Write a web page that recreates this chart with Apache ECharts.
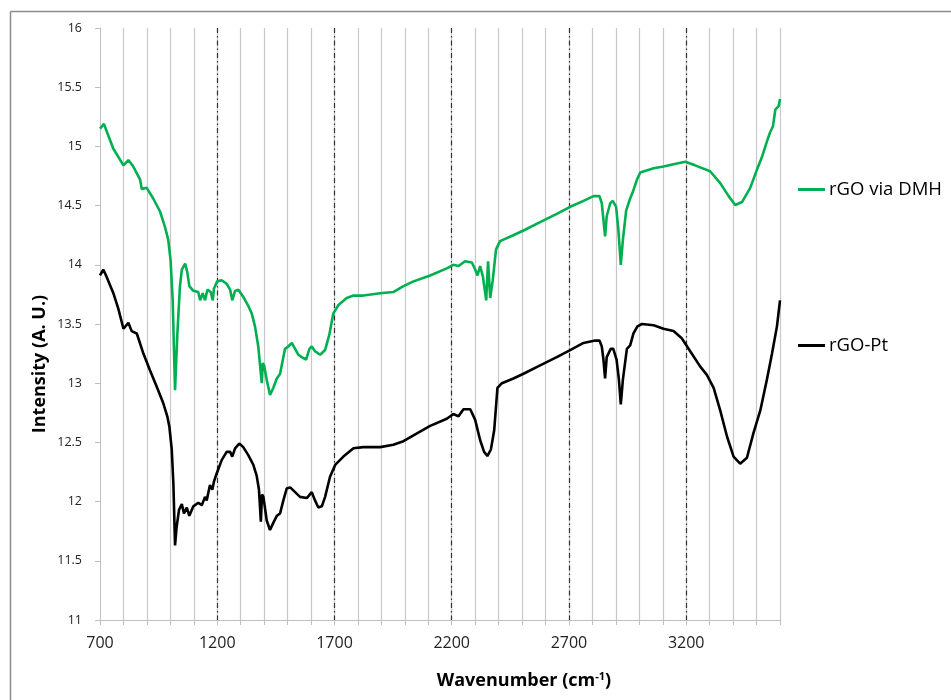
<!DOCTYPE html>
<html>
<head>
<meta charset="utf-8">
<script src="https://cdn.jsdelivr.net/npm/echarts@6/dist/echarts.min.js"></script>
<style>
html,body{margin:0;padding:0;background:#fff;}
#chart{width:951px;height:700px;}
</style>
</head>
<body>
<div id="chart"></div>
<script>
// Wavenumber (cm-1) and intensity values
const dmhX = [700,717,726,757,800,821,842,871,878,899,927,956,977,991,1001,1010,1020,1030,1041,1049,1063,1072,1081,1098,1119,1127,1138,1148,1158,1172,1181,1186,1200,1219,1240,1255,1264,1276,1290,1311,1333,1347,1361,1375,1386,1390,1394,1400,1411,1425,1439,1454,1468,1489,1503,1518,1532,1546,1560,1579,1593,1603,1617,1639,1660,1678,1695,1717,1752,1781,1823,1895,1951,1994,2037,2108,2179,2207,2229,2257,2286,2300,2310,2321,2333,2347,2355,2364,2375,2389,2406,2463,2506,2577,2648,2705,2762,2805,2830,2840,2847,2854,2861,2876,2887,2901,2911,2921,2930,2944,2961,2975,2990,3004,3061,3103,3146,3196,3238,3302,3345,3381,3409,3438,3473,3501,3523,3544,3558,3570,3580,3594,3600];
const dmhY = [15.15,15.19,15.14,14.98,14.84,14.885,14.83,14.72,14.64,14.65,14.56,14.45,14.32,14.21,14.04,13.70,12.94,13.42,13.82,13.96,14.01,13.94,13.82,13.78,13.77,13.70,13.76,13.70,13.79,13.77,13.70,13.80,13.86,13.87,13.84,13.79,13.70,13.78,13.79,13.73,13.65,13.59,13.48,13.31,13.08,13.00,13.17,13.15,13.03,12.90,12.96,13.04,13.08,13.29,13.31,13.34,13.29,13.24,13.22,13.20,13.29,13.31,13.27,13.24,13.28,13.41,13.59,13.66,13.72,13.74,13.74,13.76,13.77,13.82,13.86,13.91,13.97,14.00,13.99,14.03,14.02,13.96,13.91,13.99,13.90,13.70,14.03,13.72,13.87,14.13,14.20,14.25,14.29,14.36,14.43,14.49,14.54,14.58,14.58,14.52,14.38,14.24,14.41,14.52,14.54,14.49,14.29,14.00,14.21,14.46,14.56,14.63,14.72,14.78,14.815,14.83,14.85,14.87,14.84,14.79,14.69,14.58,14.505,14.53,14.65,14.80,14.91,15.04,15.12,15.17,15.31,15.34,15.40];

const ptX = [700,714,728,757,778,800,821,835,857,885,913,942,970,987,996,1006,1013,1020,1027,1037,1049,1058,1070,1081,1098,1119,1134,1148,1155,1169,1179,1186,1198,1219,1240,1255,1264,1276,1294,1311,1333,1354,1368,1378,1386,1391,1397,1411,1425,1439,1454,1468,1482,1496,1511,1532,1553,1582,1603,1617,1631,1646,1660,1681,1703,1738,1781,1823,1895,1951,1994,2037,2108,2179,2207,2229,2250,2279,2300,2321,2338,2352,2367,2381,2395,2414,2463,2506,2577,2648,2705,2762,2812,2830,2840,2847,2854,2861,2878,2889,2903,2913,2921,2930,2947,2961,2975,2992,3011,3061,3103,3146,3181,3217,3260,3288,3317,3345,3374,3402,3430,3459,3487,3516,3544,3566,3587,3600];
const ptY = [13.91,13.96,13.90,13.76,13.63,13.46,13.51,13.44,13.42,13.25,13.11,12.97,12.83,12.72,12.63,12.44,12.15,11.63,11.79,11.93,11.98,11.90,11.95,11.88,11.96,11.99,11.97,12.04,12.01,12.14,12.10,12.17,12.24,12.35,12.42,12.42,12.38,12.45,12.49,12.46,12.39,12.31,12.22,12.10,11.83,12.06,12.04,11.84,11.76,11.82,11.88,11.90,12.01,12.11,12.12,12.08,12.04,12.03,12.08,12.01,11.95,11.96,12.04,12.21,12.31,12.38,12.45,12.46,12.46,12.48,12.51,12.56,12.64,12.70,12.74,12.72,12.78,12.78,12.69,12.52,12.42,12.385,12.44,12.60,12.96,13.00,13.04,13.08,13.15,13.22,13.28,13.34,13.36,13.36,13.31,13.20,13.04,13.22,13.29,13.29,13.20,13.03,12.82,13.03,13.29,13.32,13.42,13.48,13.50,13.49,13.46,13.44,13.38,13.27,13.14,13.07,12.96,12.77,12.55,12.38,12.32,12.37,12.58,12.77,13.03,13.25,13.48,13.70];

const seriesNames = ['rGO via DMH', 'rGO-Pt'];
const xMin = 700, xMax = 3600, xMajor = 500, xMinor = 100;
const yMin = 11, yMax = 16, yStep = 0.5;

const zip = (a, b) => a.map((v, i) => [v, b[i]]);
const FONT = '"Open Sans", "Noto Sans", sans-serif';

const chart = echarts.init(document.getElementById('chart'), null, {renderer: 'canvas'});
chart.setOption({
  backgroundColor: '#fff',
  animation: false,
  textStyle: {fontFamily: FONT},
  title: {
    text: '{a|Wavenumber (cm}{s|-1}{a|)}',
    left: 524, top: 671, textAlign: 'center', padding: 0,
    textStyle: {
      rich: {
        a: {fontSize: 18, fontWeight: 'bold', color: '#000', fontFamily: FONT},
        s: {fontSize: 11, fontWeight: 'bold', color: '#000', fontFamily: FONT, padding: [0, 0, 9, 0]}
      }
    }
  },
  grid: {left: 100, right: 171, top: 28, bottom: 80, containLabel: false},
  legend: [
    {data: [seriesNames[0]], left: 798, top: 180, padding: 0, icon: 'rect', itemWidth: 27, itemHeight: 3, itemGap: 4,
     textStyle: {fontSize: 18.5, color: '#000', fontFamily: FONT, padding: [0, 0, 0, -1]}},
    {data: [seriesNames[1]], left: 798, top: 336, padding: 0, icon: 'rect', itemWidth: 27, itemHeight: 3, itemGap: 4,
     textStyle: {fontSize: 18.5, color: '#000', fontFamily: FONT, padding: [0, 0, 0, -1]}}
  ],
  xAxis: [
    {
      type: 'value', min: xMin, max: xMax, interval: xMajor,
      axisLine: {show: true, lineStyle: {color: '#bfbfbf', width: 1}},
      axisTick: {show: false},
      axisLabel: {color: '#222', fontSize: 16, margin: 15, showMaxLabel: false, formatter: v => String(v)},
      splitLine: {show: true, showMinLine: false, showMaxLine: false,
                  lineStyle: {color: '#333', width: 1.2, type: [5, 3, 1.5, 3]}},
      z: 3
    },
    {
      type: 'value', min: xMin, max: xMax, interval: xMinor, position: 'bottom',
      axisLine: {show: false},
      axisTick: {show: true, inside: false, length: 5, lineStyle: {color: '#bfbfbf'}},
      axisLabel: {show: false},
      splitLine: {show: true, showMinLine: false, lineStyle: {color: '#c8c8c8', width: 1.2}},
      z: 1
    }
  ],
  yAxis: {
    type: 'value', min: yMin, max: yMax, interval: yStep,
    axisLine: {show: true, lineStyle: {color: '#bfbfbf', width: 1}},
    axisTick: {show: true, length: 5, lineStyle: {color: '#bfbfbf'}},
    axisLabel: {color: '#222', fontSize: 12.5, margin: 18},
    splitLine: {show: false}
  },
  series: [
    {name: seriesNames[0], type: 'line', data: zip(dmhX, dmhY), showSymbol: false, symbol: 'none',
     lineStyle: {color: '#00b050', width: 2.6}, itemStyle: {color: '#00b050'}, z: 5},
    {name: seriesNames[1], type: 'line', data: zip(ptX, ptY), showSymbol: false, symbol: 'none',
     lineStyle: {color: '#000', width: 2.6}, itemStyle: {color: '#000'}, z: 5}
  ],
  graphic: [
    {type: 'line', shape: {x1: 10.5, y1: 11.5, x2: 951, y2: 11.5}, style: {stroke: '#8c8c8c', lineWidth: 1.5}, silent: true},
    {type: 'line', shape: {x1: 10.5, y1: 11.5, x2: 10.5, y2: 700}, style: {stroke: '#8c8c8c', lineWidth: 1.5}, silent: true},
    {type: 'text', x: 40, y: 364, rotation: Math.PI / 2, silent: true,
     style: {text: 'Intensity (A. U.)', fill: '#000', font: 'bold 18px "Open Sans", "Noto Sans", sans-serif',
             align: 'center', verticalAlign: 'middle'}}
  ]
});
</script>
</body>
</html>
